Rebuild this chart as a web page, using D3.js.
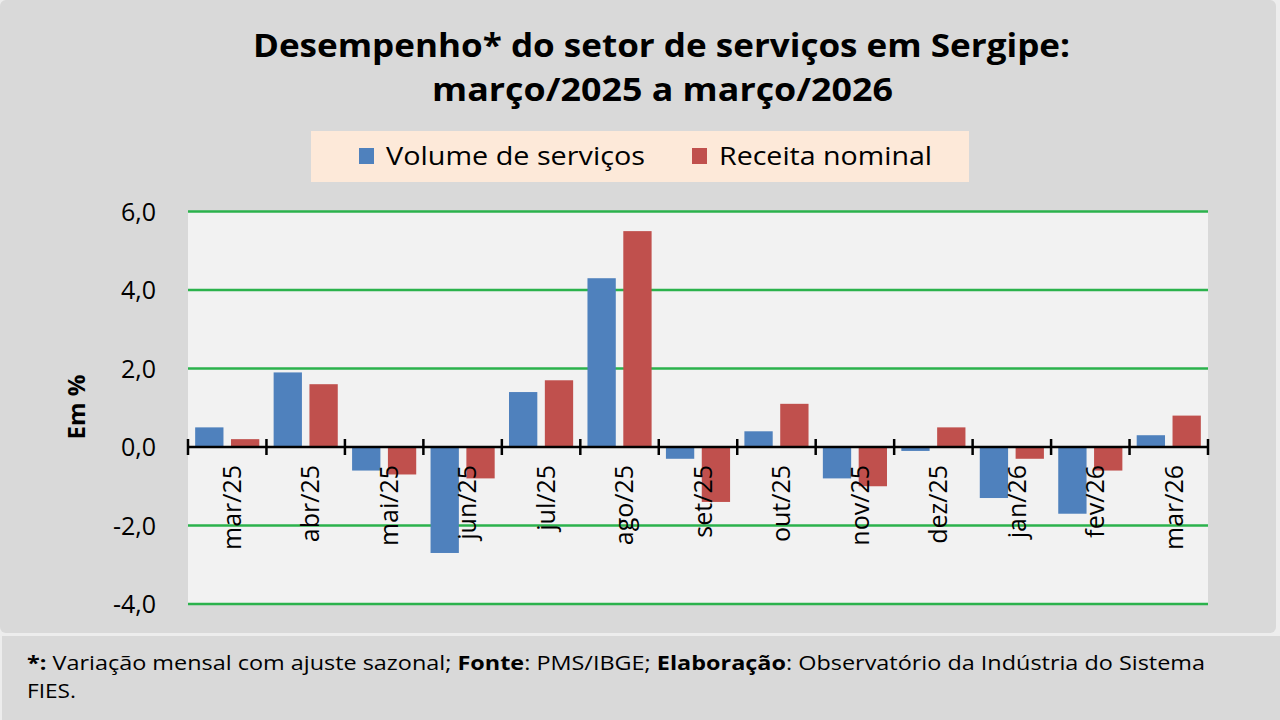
<!DOCTYPE html>
<html>
<head>
<meta charset="utf-8">
<script src="https://cdn.jsdelivr.net/npm/d3@7"></script>
<style>
  html, body { margin: 0; padding: 0; background: #ededed; }
  svg { display: block; }
</style>
</head>
<body>
<svg id="chart" width="1280" height="720"></svg>
<script>
// dados
var meses = ["mar/25", "abr/25", "mai/25", "jun/25", "jul/25", "ago/25", "set/25",
             "out/25", "nov/25", "dez/25", "jan/26", "fev/26", "mar/26"];
var volumeServicos = [0.5, 1.9, -0.6, -2.7, 1.4, 4.3, -0.3, 0.4, -0.8, -0.1, -1.3, -1.7, 0.3];
var receitaNominal = [0.2, 1.6, -0.7, -0.8, 1.7, 5.5, -1.4, 1.1, -1.0, 0.5, -0.3, -0.6, 0.8];
var series = ["Volume de serviços", "Receita nominal"];
var yTicks = [-4, -2, 0, 2, 4, 6];

var cores = { "Volume de serviços": "#4f81bd", "Receita nominal": "#c0504d" };
var font = "'Open Sans', 'Noto Sans', sans-serif";

var svg = d3.select("#chart");

// fundo do gráfico e do rodapé
svg.append("rect").attr("x", 0).attr("y", 0).attr("width", 1276).attr("height", 633)
    .attr("rx", 6).style("fill", "#d9d9d9");
svg.append("rect").attr("x", 2).attr("y", 636).attr("width", 1280).attr("height", 90)
    .style("fill", "#d9d9d9");

// título
svg.append("text").attr("x", 253).attr("y", 57)
    .attr("textLength", 817).attr("lengthAdjust", "spacingAndGlyphs")
    .style("font-family", font).style("font-weight", "bold").style("font-size", "33px")
    .text("Desempenho* do setor de serviços em Sergipe:");
svg.append("text").attr("x", 432).attr("y", 101)
    .attr("textLength", 461).attr("lengthAdjust", "spacingAndGlyphs")
    .style("font-family", font).style("font-weight", "bold").style("font-size", "33px")
    .text("março/2025 a março/2026");

// legenda
var legend = svg.append("g");
legend.append("rect").attr("x", 311).attr("y", 131).attr("width", 658).attr("height", 51)
    .style("fill", "#fde9d9");
var legX = [359, 692];
var legW = [259, 213];
series.forEach(function(s, i) {
    legend.append("rect").attr("x", legX[i]).attr("y", 148).attr("width", 15).attr("height", 16)
        .style("fill", cores[s]);
    legend.append("text").attr("x", legX[i] + 27).attr("y", 165)
        .attr("textLength", legW[i]).attr("lengthAdjust", "spacingAndGlyphs")
        .style("font-family", font).style("font-size", "26px")
        .text(s);
});

// área de plotagem
var plot = { left: 188, right: 1208, top: 211.5, bottom: 604 };

var x0 = d3.scaleBand().domain(meses).range([plot.left, plot.right]).paddingInner(0).paddingOuter(0);
var x1 = d3.scaleBand().domain(series).range([0, x0.bandwidth()]).paddingInner(0.21).paddingOuter(0.2);
var y = d3.scaleLinear().domain([-4, 6]).range([plot.bottom, plot.top]);

svg.append("rect")
    .attr("x", plot.left).attr("y", plot.top)
    .attr("width", plot.right - plot.left).attr("height", plot.bottom - plot.top)
    .style("fill", "#f2f2f2");

// linhas de grade
svg.append("g").selectAll("line")
    .data(yTicks.filter((d) => d !== 0))
    .enter().append("line")
    .attr("x1", plot.left).attr("x2", plot.right)
    .attr("y1", (d) => y(d)).attr("y2", (d) => y(d))
    .style("stroke", "#2bb24c").style("stroke-width", 2.5);

// eixo y
var yAxis = svg.append("g")
    .attr("transform", "translate(" + (plot.left - 29) + ",0)")
    .call(d3.axisLeft(y).tickValues(yTicks).tickSize(0)
        .tickFormat((d) => d.toFixed(1).replace(".", ",")));
yAxis.select(".domain").remove();
yAxis.selectAll("text")
    .style("font-family", font).style("font-size", "25px").style("fill", "#000")
    .attr("dx", "0").attr("dy", "0.35em");

svg.append("text")
    .attr("transform", "translate(85,407) rotate(-90)")
    .attr("text-anchor", "middle")
    .style("font-family", font).style("font-weight", "bold").style("font-size", "24px")
    .text("Em %");

// barras
var dados = meses.map(function(m, i) {
    return { mes: m, valores: [
        { serie: series[0], valor: volumeServicos[i] },
        { serie: series[1], valor: receitaNominal[i] }
    ] };
});

var grupos = svg.append("g").selectAll("g")
    .data(dados)
    .enter().append("g")
    .attr("transform", (d) => "translate(" + x0(d.mes) + ",0)");

grupos.selectAll("rect")
    .data((d) => d.valores)
    .enter().append("rect")
    .attr("x", (d) => x1(d.serie))
    .attr("width", x1.bandwidth())
    .attr("y", (d) => y(Math.max(0, d.valor)))
    .attr("height", (d) => Math.abs(y(d.valor) - y(0)))
    .style("fill", (d) => cores[d.serie]);

// eixo x na linha do zero
var y0 = y(0);
svg.append("line")
    .attr("x1", plot.left).attr("x2", plot.right)
    .attr("y1", y0).attr("y2", y0)
    .style("stroke", "#000").style("stroke-width", 2.5);

var limites = meses.map((m) => x0(m)).concat([plot.right]);
svg.append("g").selectAll("line")
    .data(limites)
    .enter().append("line")
    .attr("x1", (d) => d).attr("x2", (d) => d)
    .attr("y1", y0 - 8).attr("y2", y0 + 8)
    .style("stroke", "#000").style("stroke-width", 2.5);

svg.append("g").selectAll("text")
    .data(meses)
    .enter().append("text")
    .attr("transform", (d) => "translate(" + (x0(d) + x0.bandwidth() / 2 + 5) + "," + (y0 + 18) + ") rotate(-90)")
    .attr("text-anchor", "end")
    .attr("dy", "0.35em")
    .style("font-family", font).style("font-size", "25px")
    .text((d) => d);

// rodapé
var nota = svg.append("text").attr("x", 27).attr("y", 670)
    .attr("textLength", 1178).attr("lengthAdjust", "spacingAndGlyphs")
    .style("font-family", font).style("font-size", "20px");
nota.append("tspan").style("font-weight", "bold").text("*:");
nota.append("tspan").text(" Variação mensal com ajuste sazonal; ");
nota.append("tspan").style("font-weight", "bold").text("Fonte");
nota.append("tspan").text(": PMS/IBGE; ");
nota.append("tspan").style("font-weight", "bold").text("Elaboração");
nota.append("tspan").text(": Observatório da Indústria do Sistema");

svg.append("text").attr("x", 27).attr("y", 698)
    .attr("textLength", 49).attr("lengthAdjust", "spacingAndGlyphs")
    .style("font-family", font).style("font-size", "20px")
    .text("FIES.");
</script>
</body>
</html>
